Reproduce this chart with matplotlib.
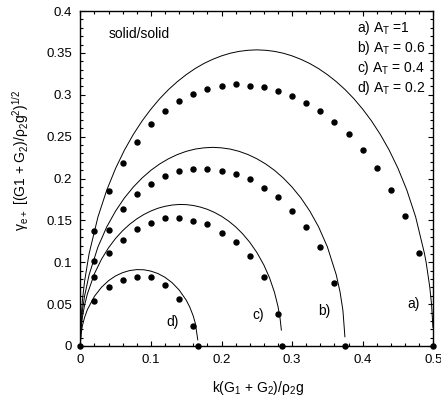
import matplotlib
matplotlib.use("Agg")
import matplotlib.pyplot as plt
from matplotlib.ticker import MultipleLocator, FuncFormatter

plt.rcParams['font.family'] = ['Liberation Sans', 'DejaVu Sans']
plt.rcParams['mathtext.default'] = 'regular'

#solid curves (theory)
k_a = [0, 0.001, 0.003, 0.006, 0.0125, 0.025, 0.0375, 0.05, 0.0625, 0.075, 0.0875, 0.1, 0.1125, 0.125,
       0.1375, 0.15, 0.1625, 0.175, 0.1875, 0.2, 0.2125, 0.225, 0.2375, 0.25, 0.2625, 0.275, 0.2875,
       0.3, 0.3125, 0.325, 0.3375, 0.35, 0.3625, 0.375, 0.3875, 0.4, 0.4125, 0.425, 0.4375, 0.45,
       0.4625, 0.475, 0.4875, 0.49, 0.495, 0.4975, 0.4995]
g_a = [0, 0.0316, 0.0546, 0.0770, 0.1104, 0.1541, 0.1862, 0.2121, 0.2339, 0.2525, 0.2687, 0.2828, 0.2953, 0.3062,
       0.3157, 0.3240, 0.3312, 0.3373, 0.3423, 0.3464, 0.3496, 0.3518, 0.3531, 0.3536, 0.3531, 0.3518, 0.3496,
       0.3464, 0.3423, 0.3373, 0.3312, 0.3240, 0.3157, 0.3062, 0.2953, 0.2828, 0.2687, 0.2525, 0.2339, 0.2121,
       0.1862, 0.1541, 0.1104, 0.0990, 0.0704, 0.0499, 0.0223]
k_b = [0, 0.001, 0.003, 0.006, 0.0125, 0.025, 0.0375, 0.05, 0.0625, 0.075, 0.0875, 0.1, 0.1125, 0.125,
       0.1375, 0.15, 0.1625, 0.175, 0.1875, 0.2, 0.2125, 0.225, 0.2375, 0.25, 0.2625, 0.275, 0.2875,
       0.3, 0.3125, 0.325, 0.3375, 0.35, 0.3625, 0.368, 0.372, 0.3748]
g_b = [0, 0.0245, 0.0423, 0.0595, 0.0851, 0.1183, 0.1423, 0.1612, 0.1768, 0.1897, 0.2006, 0.2098, 0.2174, 0.2236,
       0.2286, 0.2324, 0.2351, 0.2366, 0.2372, 0.2366, 0.2351, 0.2324, 0.2286, 0.2236, 0.2174, 0.2098, 0.2006,
       0.1897, 0.1768, 0.1612, 0.1423, 0.1183, 0.0851, 0.0642, 0.0423, 0.011]
k_c = [0, 0.001, 0.003, 0.006, 0.01, 0.02, 0.03, 0.04, 0.05, 0.06, 0.07, 0.08, 0.09, 0.10, 0.11, 0.12,
       0.13, 0.14, 0.15, 0.16, 0.17, 0.18, 0.19, 0.20, 0.21, 0.22, 0.23, 0.24, 0.25, 0.26, 0.268,
       0.275, 0.28, 0.283, 0.2848]
g_c = [0, 0.0200, 0.0345, 0.0485, 0.0621, 0.0863, 0.1036, 0.1173, 0.1285, 0.1377, 0.1454, 0.1518, 0.1570, 0.1612,
       0.1645, 0.1668, 0.1683, 0.1690, 0.1688, 0.1678, 0.1659, 0.1632, 0.1595, 0.1549, 0.1492, 0.1423, 0.1339,
       0.1239, 0.1118, 0.0967, 0.0815, 0.0642, 0.0473, 0.0327, 0.019]
k_d = [0, 0.001, 0.003, 0.006, 0.01, 0.02, 0.03, 0.04, 0.05, 0.06, 0.07, 0.08, 0.09, 0.10, 0.11, 0.12,
       0.13, 0.14, 0.15, 0.155, 0.16, 0.163, 0.1664]
g_d = [0, 0.0141, 0.0243, 0.0340, 0.0434, 0.0593, 0.0701, 0.0780, 0.0837, 0.0876, 0.0901, 0.0912, 0.0910, 0.0894,
       0.0865, 0.0820, 0.0756, 0.0669, 0.0548, 0.0466, 0.0358, 0.0268, 0.0073]

#measured points (dots)
pk_a = [0, 0.02, 0.04, 0.06, 0.08, 0.10, 0.12, 0.14, 0.16, 0.18, 0.20, 0.22, 0.24, 0.26,
        0.28, 0.30, 0.32, 0.34, 0.36, 0.38, 0.40, 0.42, 0.44, 0.46, 0.48, 0.5]
pg_a = [0, 0.137, 0.185, 0.219, 0.244, 0.265, 0.281, 0.2925, 0.301, 0.307, 0.311, 0.3125, 0.311, 0.309,
        0.305, 0.2985, 0.2905, 0.280, 0.2675, 0.2535, 0.234, 0.213, 0.1866, 0.155, 0.111, 0]
pk_b = [0.02, 0.04, 0.06, 0.08, 0.10, 0.12, 0.14, 0.16, 0.18, 0.20, 0.22, 0.24, 0.26,
        0.28, 0.30, 0.32, 0.34, 0.36, 0.375]
pg_b = [0.102, 0.139, 0.163, 0.181, 0.194, 0.203, 0.209, 0.211, 0.211, 0.209, 0.2057, 0.199, 0.1887,
        0.1775, 0.161, 0.142, 0.118, 0.075, 0]
pk_c = [0.02, 0.04, 0.06, 0.08, 0.10, 0.12, 0.14, 0.16, 0.18, 0.20, 0.22, 0.24, 0.26, 0.28, 0.285]
pg_c = [0.082, 0.111, 0.126, 0.140, 0.147, 0.1525, 0.1525, 0.149, 0.146, 0.1355, 0.124, 0.107, 0.082, 0.038, 0]
pk_d = [0.02, 0.04, 0.06, 0.08, 0.10, 0.12, 0.14, 0.16, 0.167]
pg_d = [0.054, 0.071, 0.079, 0.082, 0.082, 0.0724, 0.056, 0.024, 0]

legend_lines = [r'a) A$_T$ =1', r'b) A$_T$ = 0.6', r'c) A$_T$ = 0.4', r'd) A$_T$ = 0.2']

fig = plt.figure(figsize=(4.41, 3.98), dpi=100)
ax = fig.add_axes([80.3/441, 52/398, 353/441, 335/398])

for k, g in [(k_a, g_a), (k_b, g_b), (k_c, g_c), (k_d, g_d)]:
    ax.plot(k, g, color='black', lw=0.7)
for k, g in [(pk_a, pg_a), (pk_b, pg_b), (pk_c, pg_c), (pk_d, pg_d)]:
    ax.plot(k, g, 'o', color='black', ms=3.6, clip_on=False, zorder=5)

ax.set_xlim(0, 0.5)
ax.set_ylim(0, 0.4)
ax.xaxis.set_major_locator(MultipleLocator(0.1))
ax.xaxis.set_minor_locator(MultipleLocator(0.02))
ax.yaxis.set_major_locator(MultipleLocator(0.05))
ax.yaxis.set_minor_locator(MultipleLocator(0.01))
fmt = FuncFormatter(lambda v, p: '0' if abs(v) < 1e-9 else ('%g' % round(v, 3)))
ax.xaxis.set_major_formatter(fmt)
ax.yaxis.set_major_formatter(fmt)
ax.tick_params(which='both', direction='in', top=True, right=True, labelsize=9.5, width=0.8)
ax.tick_params(which='major', length=3.5, pad=6)
ax.tick_params(which='minor', length=2)
for s in ax.spines.values():
    s.set_linewidth(1.0)

#labels
ax.text(0.04, 0.373, 'solid/solid', fontsize=10, va='center')
for i, t in enumerate(legend_lines):
    ax.text(0.392, 0.3795 - i*0.0239, t, fontsize=10, va='center')
ax.text(0.4717, 0.0498, 'a)', fontsize=10, ha='center', va='center')
ax.text(0.3456, 0.0418, 'b)', fontsize=10, ha='center', va='center')
ax.text(0.2521, 0.037, 'c)', fontsize=10, ha='center', va='center')
ax.text(0.1309, 0.029, 'd)', fontsize=10, ha='center', va='center')

fig.text(258/441, 1 - 388/398, r'k(G$_1$ + G$_2$)/$\rho_2$g', fontsize=10, ha='center', va='center')
fig.text(21/441, 1 - 160/398, r'$\gamma_{e+}$ [(G1 + G$_2$)/$\rho_2$g$^2$)$^{1/2}$', fontsize=10,
         ha='center', va='center', rotation=90)

plt.savefig('out.png', dpi=100)
